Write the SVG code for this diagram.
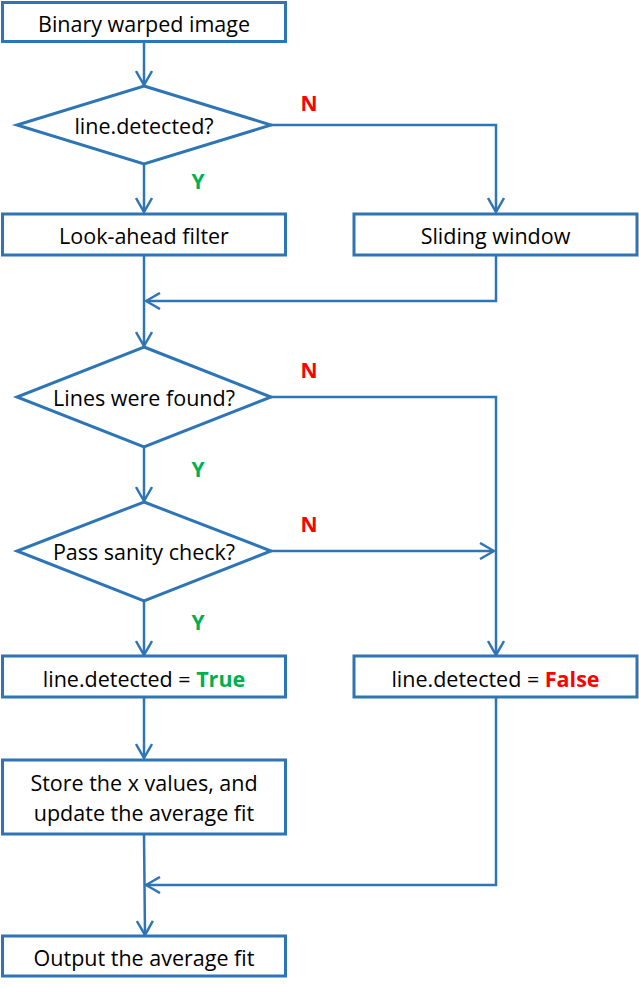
<svg xmlns="http://www.w3.org/2000/svg" width="639" height="988" viewBox="0 0 639 988">
<style>
.box{fill:#fff;stroke:#2E75B6;stroke-width:3}
.t{font-family:"Open Sans","Liberation Sans",sans-serif;font-size:21.5px;fill:#000;text-anchor:middle;dominant-baseline:central}
.lbl{font-family:"Open Sans","Liberation Sans",sans-serif;font-size:21px;font-weight:bold;text-anchor:middle;dominant-baseline:central}
.n{fill:#FF0000}
.y{fill:#00B050}
.c{fill:none;stroke:#2E75B6;stroke-width:2.5;stroke-linejoin:miter}
</style>
<defs>
<marker id="ah" viewBox="0 0 16 18" refX="15" refY="9" markerWidth="16" markerHeight="18" markerUnits="userSpaceOnUse" orient="auto">
<polyline points="1,1 15,9 1,17" fill="none" stroke="#2E75B6" stroke-width="2.5"/>
</marker>
</defs>
<g id="connectors">
<path class="c" d="M144,42 V85" marker-end="url(#ah)"/>
<path class="c" d="M271,125 H496 V212" marker-end="url(#ah)"/>
<path class="c" d="M144,164 V212" marker-end="url(#ah)"/>
<path class="c" d="M144,255 V346" marker-end="url(#ah)"/>
<path class="c" d="M496,255 V301 H146" marker-end="url(#ah)"/>
<path class="c" d="M271,397 H496 V655" marker-end="url(#ah)"/>
<path class="c" d="M144,447 V501" marker-end="url(#ah)"/>
<path class="c" d="M271,551 H494" marker-end="url(#ah)"/>
<path class="c" d="M144,601 V655" marker-end="url(#ah)"/>
<path class="c" d="M144,697 V758" marker-end="url(#ah)"/>
<path class="c" d="M144,834 L145,935" marker-end="url(#ah)"/>
<path class="c" d="M496,697 V885 H146" marker-end="url(#ah)"/>
</g>
<g id="n1"><rect class="box" x="2.5" y="2.5" width="283" height="39"/><text class="t" x="144" y="23">Binary warped image</text></g>
<g id="d1"><polygon class="box" points="144,86 271,125 144,164 17,125"/><text class="t" x="144" y="125">line.detected?</text></g>
<g id="n2"><rect class="box" x="2.5" y="214" width="283" height="41"/><text class="t" x="144" y="235.5">Look-ahead filter</text></g>
<g id="n3"><rect class="box" x="354" y="214" width="283" height="41"/><text class="t" x="495.5" y="235.5">Sliding window</text></g>
<g id="d2"><polygon class="box" points="144,347 271,397 144,447 17,397"/><text class="t" x="144" y="397">Lines were found?</text></g>
<g id="d3"><polygon class="box" points="144,502 271,551 144,601 17,551"/><text class="t" x="144" y="551">Pass sanity check?</text></g>
<g id="n4"><rect class="box" x="2.5" y="656" width="283" height="41"/><text class="t" x="144" y="678">line.detected = <tspan class="y" font-weight="bold">True</tspan></text></g>
<g id="n5"><rect class="box" x="354" y="656" width="283" height="41"/><text class="t" x="495.5" y="678">line.detected = <tspan class="n" font-weight="bold">False</tspan></text></g>
<g id="n6"><rect class="box" x="2.5" y="760" width="283" height="74"/><text class="t" x="144" y="782">Store the x values, and</text><text class="t" x="144" y="812">update the average fit</text></g>
<g id="n7"><rect class="box" x="2.5" y="936" width="283" height="40"/><text class="t" x="144" y="957">Output the average fit</text></g>
<g id="labels">
<text class="lbl n" x="309" y="103">N</text>
<text class="lbl y" x="198" y="181">Y</text>
<text class="lbl n" x="309" y="370">N</text>
<text class="lbl y" x="198" y="469">Y</text>
<text class="lbl n" x="309" y="524">N</text>
<text class="lbl y" x="198" y="622">Y</text>
</g>
</svg>
